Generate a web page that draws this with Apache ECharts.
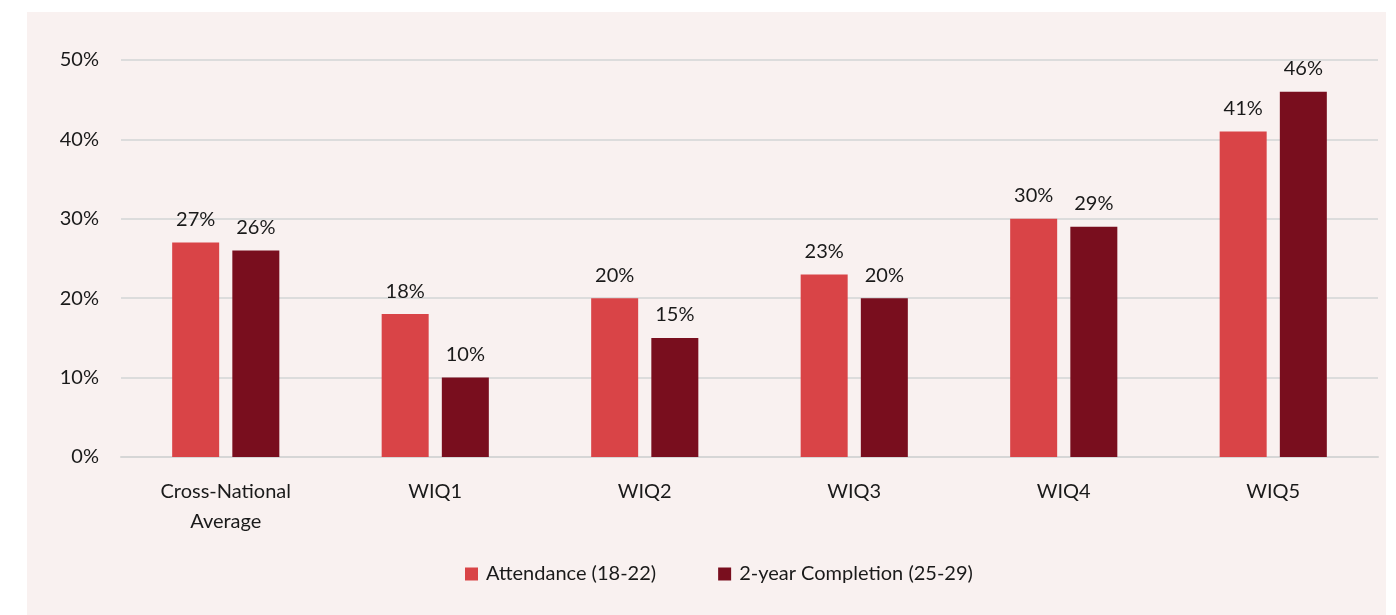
<!DOCTYPE html>
<html>
<head>
<meta charset="utf-8">
<script src="https://cdn.jsdelivr.net/npm/echarts@6/dist/echarts.min.js"></script>
<style>
  html, body { margin: 0; padding: 0; background: #ffffff; }
  #panel { position: absolute; left: 27px; top: 12px; width: 1359px; height: 603px; background: #f9f1f0; }
  #chart { position: absolute; left: 0; top: 0; width: 1396px; height: 615px; }
</style>
</head>
<body>
<div id="panel"></div>
<div id="chart"></div>
<script>
var categories = ['Cross-National\nAverage', 'WIQ1', 'WIQ2', 'WIQ3', 'WIQ4', 'WIQ5'];
var attendance = [27, 18, 20, 23, 30, 41];
var completion = [26, 10, 15, 20, 29, 46];
var seriesNames = ['Attendance (18-22)', '2-year Completion (25-29)'];

var chart = echarts.init(document.getElementById('chart'), null, {renderer: 'canvas'});
var font = 'Lato, "Open Sans", sans-serif';
var textColor = '#1a1a1a';

var labelStyle = {
    show: true,
    position: 'top',
    distance: 13,
    formatter: '{c}%',
    fontFamily: font,
    fontSize: 20,
    color: textColor
};

var option = {
    animation: false,
    backgroundColor: 'transparent',
    grid: {left: 121, right: 18, top: 60, bottom: 158},
    legend: {
        top: 559,
        left: 460,
        itemWidth: 13,
        itemHeight: 13,
        itemGap: 62,
        icon: 'rect',
        textStyle: {fontFamily: font, fontSize: 20, color: textColor, padding: [0, 0, 0, 3]},
        data: seriesNames
    },
    xAxis: {
        type: 'category',
        data: categories,
        axisLine: {lineStyle: {color: '#d6d6d6', width: 2}},
        axisTick: {show: false},
        axisLabel: {fontFamily: font, fontSize: 20, color: textColor, margin: 20, lineHeight: 30}
    },
    yAxis: {
        type: 'value',
        min: 0,
        max: 50,
        interval: 10,
        axisLine: {show: false},
        axisTick: {show: false},
        axisLabel: {formatter: '{value}%', fontFamily: font, fontSize: 20, color: textColor, margin: 22},
        splitLine: {lineStyle: {color: '#dcdcdc', width: 2}}
    },
    series: [
        {
            name: seriesNames[0],
            type: 'bar',
            data: attendance,
            barWidth: 47,
            barGap: '28%',
            itemStyle: {color: '#d94447'},
            label: labelStyle
        },
        {
            name: seriesNames[1],
            type: 'bar',
            data: completion,
            barWidth: 47,
            itemStyle: {color: '#790e1e'},
            label: labelStyle
        }
    ]
};

chart.setOption(option);
</script>
</body>
</html>
